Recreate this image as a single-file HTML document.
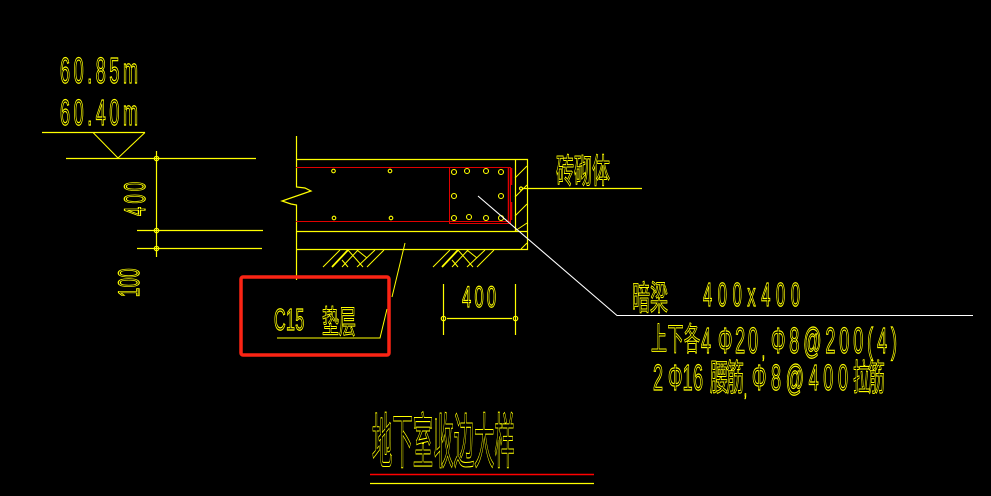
<!DOCTYPE html>
<html><head><meta charset="utf-8"><style>
html,body{margin:0;padding:0;background:#000;width:991px;height:496px;overflow:hidden}
svg{display:block}
text{font-family:"Liberation Sans","Noto Sans CJK SC",sans-serif;fill:none;stroke:#ff0;stroke-width:.95;vector-effect:non-scaling-stroke}
.c text{stroke-width:.8}
</style></head><body>
<svg width="991" height="496" viewBox="0 0 991 496" xmlns="http://www.w3.org/2000/svg">
<rect width="991" height="496" fill="#000"/>
<g stroke="#ff0" stroke-width="1.2" fill="none">
<path d="M42 132.5H145M66 158.5H256M137 230.5H263M137 248.5H262M156.5 151V257"/>
<path d="M93 132.5L118 158L145 132.5" stroke-width="1"/>
<circle cx="156.5" cy="158.5" r="2.2"/><circle cx="156.5" cy="230.5" r="2.2"/><circle cx="156.5" cy="248.5" r="2.2"/>
<path d="M296.5 136V187L305 188L311 191L282 201L291 204L296.5 205V280"/>
<path d="M296 159.5H527.5V249.5H296M296 231.5H527.5M515.5 159.500V231.500"/>
<path d="M515 178L527 166M515 197L527 185M515 216L527 204M515 231L527 223M521 249L527 243" stroke-width="1"/>
<path d="M522 188.500H642"/><circle cx="521" cy="188.500" r="1.500"/>
<g stroke-width="1">
<path d="M323 267L340 250M342 267L358 250M357 267L375 250M367 267L384 250M348 250L363 267M357 250L367 258M342 260L348 267"/>
<path d="M332 267L348 250" stroke-width="1.800"/>
</g>
<g stroke-width="1" transform="translate(110 0)">
<path d="M323 267L340 250M342 267L358 250M357 267L375 250M367 267L384 250M348 250L363 267M357 250L367 258M342 260L348 267"/>
<path d="M332 267L348 250" stroke-width="1.800"/>
</g>
<path d="M405 243L392 297M387 309L380 338H277" stroke-width="1"/>
<path d="M443.500 284V335M515.500 284V335M447 318.500H512"/>
<circle cx="443.500" cy="318.500" r="2.200"/><circle cx="515.500" cy="318.500" r="2.200"/>
<g stroke-width="1.100">
<circle cx="333.500" cy="171" r="1.800"/><circle cx="390" cy="171" r="1.800"/><circle cx="334" cy="218" r="1.800"/><circle cx="391" cy="218" r="1.800"/>
<circle cx="454" cy="172" r="2.500"/><circle cx="467" cy="171" r="2.500"/><circle cx="486" cy="171" r="2.500"/><circle cx="501" cy="172" r="2.500"/>
<circle cx="454" cy="196" r="2.500"/><circle cx="501" cy="196" r="2.500"/>
<circle cx="454" cy="218" r="2.500"/><circle cx="469" cy="217" r="2.500"/><circle cx="486" cy="218" r="2.500"/><circle cx="501" cy="218" r="2.500"/>
</g>
</g>
<g stroke="#e00000" fill="none" stroke-width="1">
<path d="M296 167.500H510M296 221.500H510"/>
<rect x="449.500" y="167.500" width="61" height="56"/>
<path d="M508.500 168V222M511.500 168V185M511.500 202V220" stroke-width="1.500"/>
</g>
<path d="M478 196L617 315.500H973" stroke="#fff" stroke-width="1.100" fill="none"/>
<rect x="241" y="277" width="148" height="78" rx="2" fill="none" stroke="#fb2414" stroke-width="3.500"/>
<path d="M370 474.500H594" stroke="#f00" stroke-width="1.500"/>
<path d="M370 483.500H594" stroke="#ff0" stroke-width="1.200"/>

<text transform="translate(60 83) scale(.5 1)" font-size="36" textLength="156">60.85m</text>
<text transform="translate(60 125) scale(.5 1)" font-size="36" textLength="156">60.40m</text>
<text transform="translate(145 216) rotate(-90) scale(.55 1)" font-size="30" textLength="62">400</text>
<text transform="translate(139 297) rotate(-90) scale(.55 1)" font-size="30" textLength="52">100</text>
<text transform="translate(274 330) scale(.52 1)" font-size="31" textLength="58">C15</text>
<text transform="translate(462 307) scale(.55 1)" font-size="30" textLength="62">400</text>
<text transform="translate(703 306) scale(.5 1)" font-size="33" textLength="194">400x400</text>
<text transform="translate(701 353) scale(.5 1)" font-size="36" textLength="20">4</text>
<text transform="translate(718 353) scale(.5 1)" font-size="36" textLength="80">Φ20</text>
<text transform="translate(762 358) scale(.5 1)" font-size="20" textLength="6">,</text>
<text transform="translate(771 353) scale(.5 1)" font-size="36" textLength="252">Φ8@200(4)</text>
<text transform="translate(653 390) scale(.5 1)" font-size="36" textLength="20">2</text>
<text transform="translate(668 390) scale(.5 1)" font-size="36" textLength="70">Φ16</text>
<text transform="translate(744 396) scale(.5 1)" font-size="20" textLength="6">,</text>
<text transform="translate(752 390) scale(.5 1)" font-size="36" textLength="192">Φ8@400</text>

<g class="c">
<text transform="translate(322 333) scale(.53 1)" font-size="32" textLength="64">垫层</text>
<text transform="translate(556 183) scale(.53 1)" font-size="34" textLength="102">砖砌体</text>
<text transform="translate(632 310) scale(.53 1)" font-size="34" textLength="68">暗梁</text>
<text transform="translate(651 350) scale(.5 1)" font-size="32" textLength="98">上下各</text>
<text transform="translate(710 390) scale(.5 1)" font-size="36" textLength="68">腰筋</text>
<text transform="translate(853 390) scale(.47 1)" font-size="36" textLength="68">拉筋</text>
<text transform="translate(372 463) scale(.34 1)" font-size="60" textLength="420">地下室收边大样</text>
</g>
</svg>
</body></html>
